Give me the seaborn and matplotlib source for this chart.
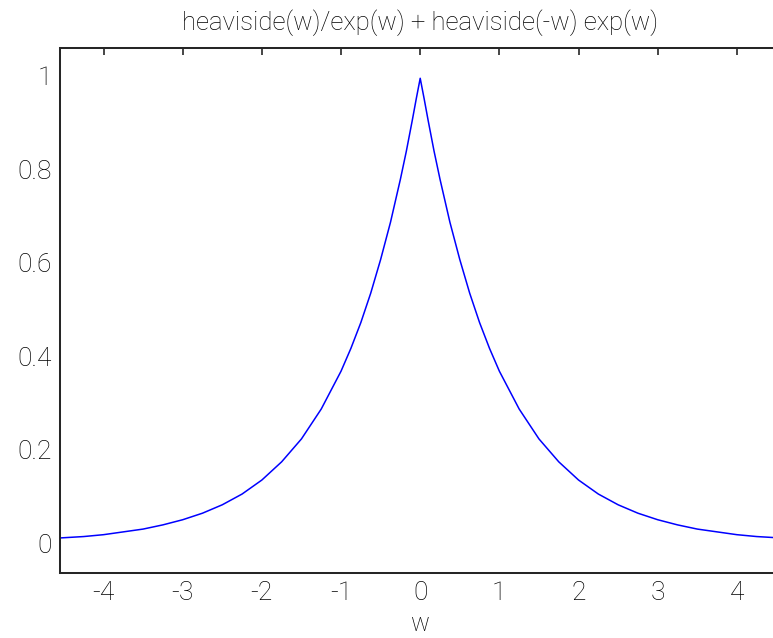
import seaborn as sns
import matplotlib.pyplot as plt
import pandas as pd

# values
w = [-4.55, -4.25, -4.0, -3.75, -3.5, -3.25, -3.0, -2.75, -2.5, -2.25, -2.0,
     -1.75, -1.5, -1.25, -1.0, -0.875, -0.75, -0.625, -0.5, -0.375, -0.25,
     -0.175, -0.1, -0.05, 0.0,
     0.05, 0.1, 0.175, 0.25, 0.375, 0.5, 0.625, 0.75, 0.875, 1.0,
     1.25, 1.5, 1.75, 2.0, 2.25, 2.5, 2.75, 3.0, 3.25, 3.5, 3.75, 4.0, 4.25, 4.55]
f = [0.011, 0.014, 0.018, 0.024, 0.030, 0.039, 0.050, 0.064, 0.082, 0.105, 0.135,
     0.174, 0.223, 0.287, 0.368, 0.417, 0.472, 0.535, 0.607, 0.687, 0.779,
     0.839, 0.905, 0.951, 0.995,
     0.951, 0.905, 0.839, 0.779, 0.687, 0.607, 0.535, 0.472, 0.417, 0.368,
     0.287, 0.223, 0.174, 0.135, 0.105, 0.082, 0.064, 0.050, 0.039, 0.030, 0.024, 0.018, 0.014, 0.011]
xticks = [-4, -3, -2, -1, 0, 1, 2, 3, 4]
yticks = [0, 0.2, 0.4, 0.6, 0.8, 1]
ytick_labels = ['0', '0.2', '0.4', '0.6', '0.8', '1']

df = pd.DataFrame({'w': w, 'f': f})

sns.set_style("white")
plt.rcParams['font.family'] = ['Roboto', 'Liberation Sans', 'DejaVu Sans']
plt.rcParams['font.weight'] = 'light'

fig = plt.figure(figsize=(7.73, 6.38), dpi=100)
ax = fig.add_axes([0.0776, 0.1019, 0.932, 0.823])

sns.lineplot(data=df, x='w', y='f', color='#0000ff', linewidth=1.1, ax=ax)

ax.set_xlim(-4.55, 4.55)
ax.set_ylim(-0.064, 1.06)
ax.set_xticks(xticks)
ax.set_xticklabels([str(t) for t in xticks])
ax.set_yticks(yticks)
ax.set_yticklabels(ytick_labels)
ax.tick_params(direction='in', length=5, width=1.2, top=True, right=True,
               labelsize=19, colors='#262626', labelcolor='black', pad=6)
for s in ax.spines.values():
    s.set_color('#262626')
    s.set_linewidth(1.45)

ax.set_title('heaviside(w)/exp(w) + heaviside(-w) exp(w)', fontsize=18.5,
             pad=13, color='black', fontweight='light')
ax.set_xlabel('w', fontsize=18, labelpad=5, color='black', fontweight='light')
ax.set_ylabel('')

fig.savefig('out.png', dpi=100)
